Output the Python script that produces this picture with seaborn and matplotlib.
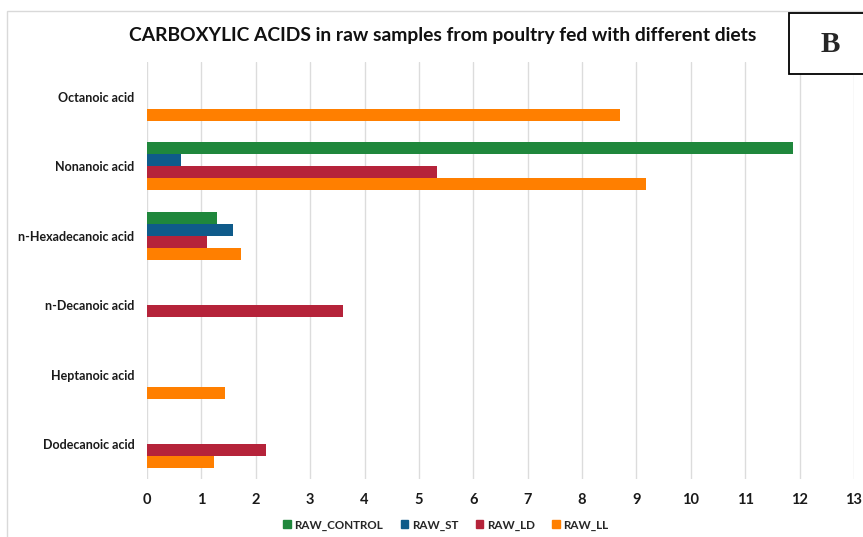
import matplotlib
matplotlib.use("Agg")
import matplotlib.pyplot as plt
import matplotlib.patches as mpatches
import seaborn as sns
import pandas as pd

# Carboxylic acids detected in raw samples
acids = ["Octanoic acid", "Nonanoic acid", "n-Hexadecanoic acid",
         "n-Decanoic acid", "Heptanoic acid", "Dodecanoic acid"]
series = ["RAW_CONTROL", "RAW_ST", "RAW_LD", "RAW_LL"]

raw_control = [0, 11.87, 1.29, 0, 0, 0]
raw_st = [0, 0.62, 1.58, 0, 0, 0]
raw_ld = [0, 5.33, 1.10, 3.61, 0, 2.18]
raw_ll = [8.70, 9.17, 1.73, 0, 1.44, 1.23]

x_ticks = list(range(0, 14))

colors = ["#1f873c", "#0f5b8a", "#b5233a", "#ff7f00"]

df = pd.DataFrame({
    "acid": acids * 4,
    "diet": [s for s in series for _ in acids],
    "value": raw_control + raw_st + raw_ld + raw_ll,
})

sns.set_theme(style="white")
plt.rcParams["font.family"] = ["Lato", "DejaVu Sans"]

fig = plt.figure(figsize=(8.63, 5.37), dpi=100)
ax = fig.add_axes([147 / 863, 1 - 479 / 537, (854 - 147) / 863, (479 - 62) / 537])

sns.barplot(data=df, x="value", y="acid", hue="diet", order=acids,
            hue_order=series, palette=colors, saturation=1, orient="h",
            width=0.69, linewidth=0, errorbar=None, ax=ax, legend=False)

ax.set_xlim(0, 13)
ax.set_xticks(x_ticks)
ax.set_xticklabels([str(t) for t in x_ticks], fontsize=10.5, fontweight="bold",
                   color="#1a1a1a")
ax.set_ylabel("")
ax.set_xlabel("")
for lbl in ax.get_yticklabels():
    lbl.set_fontsize(9)
    lbl.set_fontweight("bold")
    lbl.set_color("#1a1a1a")
ax.tick_params(axis="y", length=0, pad=9)
ax.tick_params(axis="x", length=0, pad=10)
ax.grid(axis="x", color="#dcdcdc", linewidth=1)
ax.set_axisbelow(True)
for sp in ax.spines.values():
    sp.set_visible(False)

# Outer chart frame
fig.add_artist(mpatches.Rectangle((7 / 863, -0.01), 1.0, 1 - 11 / 537 + 0.01,
                                  transform=fig.transFigure, fill=False,
                                  edgecolor="#d9d9d9", linewidth=1))

fig.text(443 / 863, 1 - 35 / 537,
         "CARBOXYLIC ACIDS in raw samples from poultry fed with different diets",
         ha="center", va="center", fontsize=13.9, fontweight="bold", color="#111111")

# Panel letter box
fig.add_artist(mpatches.Rectangle((789 / 863, 1 - 74 / 537), 0.2, 61 / 537,
                                  transform=fig.transFigure, facecolor="white",
                                  edgecolor="black", linewidth=1.3, zorder=5))
fig.text(830 / 863, 1 - 44 / 537, "B", ha="center", va="center", fontsize=21,
         fontweight="bold", family="Liberation Serif", zorder=6)

handles = [mpatches.Patch(color=c, label=s) for c, s in zip(colors, series)]
fig.legend(handles=handles, loc="center", bbox_to_anchor=(446 / 863, 1 - 525 / 537),
           ncol=4, frameon=False, handlelength=0.65, handleheight=0.65,
           handletextpad=0.3, columnspacing=1.5,
           prop={"size": 8.4, "weight": "bold"})

fig.savefig("out.png", dpi=100)
